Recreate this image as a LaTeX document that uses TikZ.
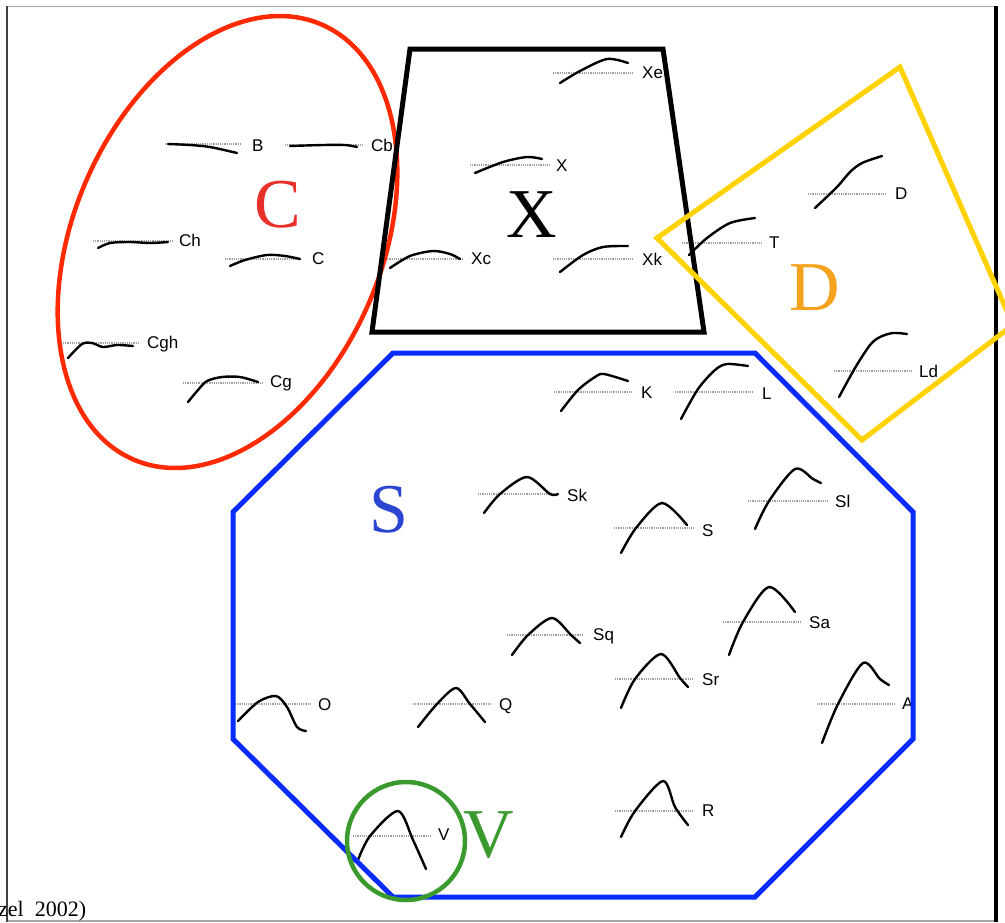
\documentclass[tikz,border=0pt]{standalone}
\usepackage{fontspec}
\setmainfont{Liberation Serif}
\newfontfamily\lblfont{Liberation Sans}
\definecolor{cred}{HTML}{FF2A00}
\definecolor{credtxt}{HTML}{E8302A}
\definecolor{cblue}{HTML}{0A2BFF}
\definecolor{cbluetxt}{HTML}{2B45D0}
\definecolor{cyel}{HTML}{FFD200}
\definecolor{corg}{HTML}{F5A21F}
\definecolor{cgrn}{HTML}{3A9A2E}
\tikzset{
  basel/.style={draw=gray!75, line width=1.2pt, densely dotted},
  crv/.style={draw=black, line width=2.4pt, line cap=round, line join=round},
  lbl/.style={font=\lblfont\fontsize{17}{17}\selectfont, inner sep=0pt, anchor=mid west, text=black},
  big/.style={font=\fontsize{70}{70}\selectfont, inner sep=0pt},
  shp/.style={line width=5pt, line join=miter},
}
\newcommand\wform[4]{%
  \draw[basel] (#1,#3) -- (#2,#3);
  \draw[crv] plot[smooth, tension=0.5] coordinates {#4};
}
\begin{document}
\begin{tikzpicture}[x=1pt,y=-1pt]
\useasboundingbox (0,0) rectangle (1005,922);
\clip (0,0) rectangle (1005,922);
\fill[white] (0,0) rectangle (1005,922);
% frame
\draw[gray!70, line width=1pt] (7,6) -- (995,6);
\draw[gray!70, line width=1.2pt] (7,921) -- (995,921);
\draw[black!75, line width=1.8pt] (7,6) -- (7,922);
\draw[black, line width=4pt] (996,6) -- (996,922);
\node[font=\fontsize{22}{22}\selectfont, anchor=base west, inner sep=0pt] (cite) at (-2,916) {zel\ \ 2002)};
% waveforms
\wform{165}{242}{144}{(168,144) (190,145) (210,147) (237,153)}
\wform{285}{363}{145}{(290,146) (323,145) (345,145) (357,147)}
\wform{93}{173}{241}{(98,248) (110,243) (130,242) (150,243) (168,242)}
\wform{225}{300}{259}{(230,266) (245,260) (267,255) (285,256) (300,259)}
\wform{63}{140}{343}{(68,358) (82,344) (92,343) (103,347) (117,345) (133,346)}
\wform{183}{263}{383}{(188,402) (198,390) (207,381) (222,377) (240,377) (258,382)}
\wform{553}{633}{73}{(560,83) (580,71) (607,59) (628,63)}
\wform{470}{550}{165}{(475,173) (503,162) (527,157) (542,159)}
\wform{385}{463}{259}{(390,268) (410,256) (433,251) (450,254) (460,259)}
\wform{553}{633}{259}{(560,272) (583,255) (603,247) (628,246)}
\wform{682}{763}{243}{(689,255) (707,238) (730,223) (755,218)}
\wform{808}{887}{194}{(815,208) (837,187) (850,172) (862,163) (882,156)}
\wform{834}{912}{371}{(839,397) (855,368) (870,345) (880,337) (893,333) (907,334)}
\wform{554}{633}{392}{(561,411) (578,390) (595,377) (604,374) (628,381)}
\wform{675}{754}{392}{(681,419) (698,389) (715,370) (727,364) (748,366)}
\wform{478}{559}{494}{(484,513) (500,494) (527,477) (550,494) (558,494)}
\wform{614}{694}{528}{(621,553) (636,528) (662,503) (687,525)}
\wform{748}{828}{501}{(755,529) (769,501) (795,469) (813,479) (821,483)}
\wform{507}{584}{635}{(512,655) (528,635) (552,618) (571,635) (580,643)}
\wform{723}{802}{622}{(729,655) (743,622) (769,587) (795,612)}
\wform{615}{693}{679}{(621,708) (635,679) (661,654) (680,678) (688,687)}
\wform{817}{895}{704}{(822,743) (838,704) (863,663) (880,679) (889,685)}
\wform{615}{693}{811}{(621,837) (635,811) (663,781) (675,807) (688,825)}
\wform{235}{312}{704}{(238,721) (258,702) (276,696) (287,707) (297,727) (306,731)}
\wform{413}{491}{704}{(418,727) (437,704) (456,688) (470,704) (485,722)}
\wform{353}{432}{836}{(358,860) (370,836) (398,811) (413,840) (426,869)}
% labels
\node[lbl] (lB) at (252,149) {B};
\node[lbl] (lCb) at (371,149) {Cb};
\node[lbl] (lCh) at (179,244) {Ch};
\node[lbl] (lC) at (312,262) {C};
\node[lbl] (lCgh) at (147,346) {Cgh};
\node[lbl] (lCg) at (270,385) {Cg};
\node[lbl] (lXe) at (642,76) {Xe};
\node[lbl] (lX) at (556,169) {X};
\node[lbl] (lXc) at (471,262) {Xc};
\node[lbl] (lXk) at (642,263) {Xk};
\node[lbl] (lT) at (769,246) {T};
\node[lbl] (lD) at (895,197) {D};
\node[lbl] (lLd) at (919,375) {Ld};
\node[lbl] (lK) at (641,396) {K};
\node[lbl] (lL) at (762,397) {L};
\node[lbl] (lSk) at (567,499) {Sk};
\node[lbl] (lS) at (702,534) {S};
\node[lbl] (lSl) at (835,505) {Sl};
\node[lbl] (lSq) at (593,638) {Sq};
\node[lbl] (lSa) at (809,626) {Sa};
\node[lbl] (lSr) at (702,683) {Sr};
\node[lbl] (lA) at (902,707) {A};
\node[lbl] (lR) at (702,814) {R};
\node[lbl] (lO) at (318,708) {O};
\node[lbl] (lQ) at (499,708) {Q};
\node[lbl] (lV) at (438,838) {V};
% group shapes
\draw[cred, line width=4.5pt, rotate around={-23.4:(227.5,242)}] (227.5,242) ellipse [x radius=154, y radius=237];
\draw[black, shp] (410,49) -- (663,49) -- (704,332) -- (372,332) -- cycle;
\draw[cyel, shp] (657,238) -- (900,67) -- (1013,325) -- (862,440) -- cycle;
\draw[cblue, shp] (393,353) -- (755,353) -- (913,512) -- (913,739) -- (755,897) -- (393,897) -- (233,739) -- (233,512) -- cycle;
\draw[cgrn, line width=4.5pt] (406,841) circle [radius=59];
% big letters
\node[big, text=credtxt] (gC) at (278,205) {C};
\node[big, text=black] (gX) at (532,215) {X};
\node[big, text=corg] (gD) at (815,288) {D};
\node[big, text=cbluetxt] (gS) at (389,510) {S};
\node[big, text=cgrn] (gV) at (489,835) {V};
\end{tikzpicture}
\end{document}
